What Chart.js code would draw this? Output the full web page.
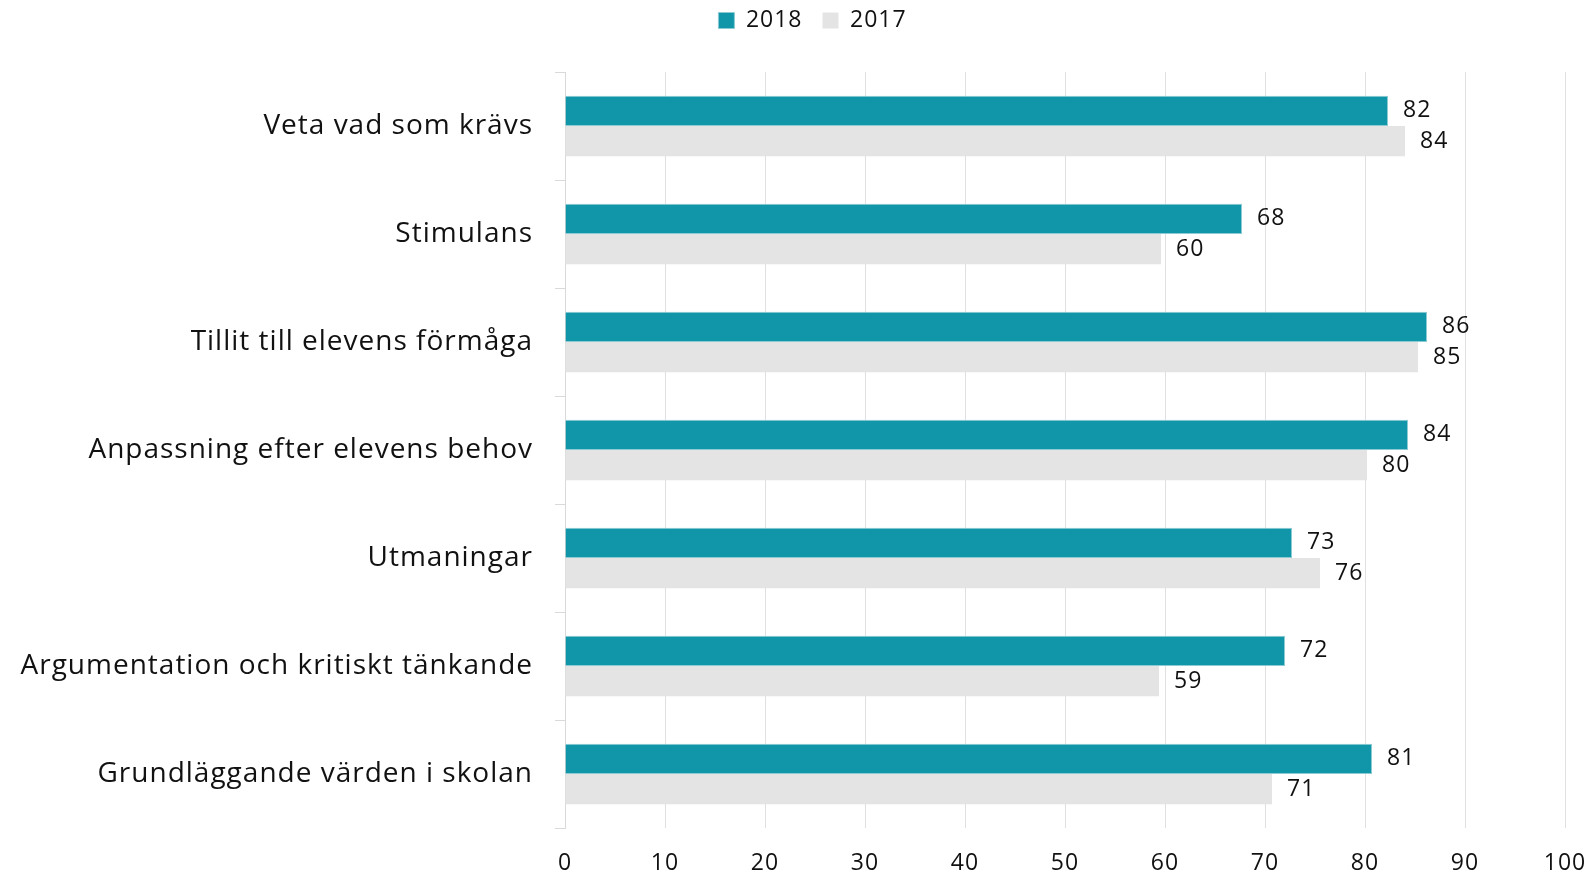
<!DOCTYPE html>
<html lang="sv">
<head>
<meta charset="utf-8">
<script src="https://cdn.jsdelivr.net/npm/chart.js@4.4.1/dist/chart.umd.min.js"></script>
<style>
  html, body { margin: 0; padding: 0; background: #fff; }
  #wrap { width: 1596px; height: 874px; }
</style>
</head>
<body>
<div id="wrap"><canvas id="c" width="1596" height="874"></canvas></div>
<script>
// kategorier och värden
const categories = [
  'Veta vad som krävs',
  'Stimulans',
  'Tillit till elevens förmåga',
  'Anpassning efter elevens behov',
  'Utmaningar',
  'Argumentation och kritiskt tänkande',
  'Grundläggande värden i skolan'
];
const values2018 = [82.3, 67.7, 86.2, 84.3, 72.7, 72.0, 80.7];
const values2017 = [84.0, 59.6, 85.3, 80.2, 75.5, 59.4, 70.7];
const xTicks = [0, 10, 20, 30, 40, 50, 60, 70, 80, 90, 100];

const FONT = '"Open Sans", sans-serif';

// etiketter vid staplarnas ände
const barLabels = {
  id: 'barLabels',
  afterDatasetsDraw(chart) {
    const ctx = chart.ctx;
    ctx.save();
    ctx.font = '23px ' + FONT;
    ctx.fillStyle = '#111';
    ctx.textBaseline = 'middle';
    ctx.textAlign = 'left';
    chart.data.datasets.forEach((ds, i) => {
      chart.getDatasetMeta(i).data.forEach((bar, j) => {
        ctx.fillText(Math.round(ds.data[j]), bar.x + 15, bar.y);
      });
    });
    ctx.restore();
  }
};

// förklaringens placering och lite bredare teckenavstånd
const legendGap = {
  id: 'legendGap',
  beforeInit(chart) {
    const fit = chart.legend.fit;
    chart.legend.fit = function () {
      fit.call(this);
      this.height += 19;
    };
  },
  afterLayout(chart) {
    const lg = chart.legend;
    lg.top -= 11;
    lg.left += 26;
    lg.right += 26;
  },
  beforeDraw(chart) {
    chart.ctx.letterSpacing = '1px';
  }
};

new Chart(document.getElementById('c'), {
  type: 'bar',
  data: {
    labels: categories,
    datasets: [
      {
        label: '2018',
        data: values2018,
        backgroundColor: '#1096a8',
        borderColor: '#8ccbd4',
        borderWidth: 1,
        barPercentage: 1,
        categoryPercentage: 0.56
      },
      {
        label: '2017',
        data: values2017,
        backgroundColor: '#e4e4e4',
        borderWidth: 0,
        barPercentage: 1,
        categoryPercentage: 0.56
      }
    ]
  },
  options: {
    indexAxis: 'y',
    responsive: false,
    animation: false,
    layout: { padding: { top: 0, right: 31, bottom: 0, left: 0 } },
    plugins: {
      legend: {
        position: 'top',
        labels: {
          boxWidth: 16,
          boxHeight: 16,
          padding: 20,
          color: '#111',
          font: { family: FONT, size: 23 }
        }
      },
      tooltip: { enabled: false }
    },
    scales: {
      x: {
        min: 0,
        max: 100,
        afterBuildTicks(axis) { axis.ticks = xTicks.map(v => ({ value: v })); },
        afterFit(axis) {
          axis.height = 46;
          axis.paddingLeft = 0;
          axis.paddingRight = 0;
        },
        grid: { color: '#e0e0e0', lineWidth: 1, drawTicks: false },
        border: { display: false },
        ticks: { color: '#111', padding: 22, maxRotation: 0, font: { family: FONT, size: 23 } }
      },
      y: {
        offset: true,
        afterFit(axis) { axis.width = 565; },
        grid: {
          offset: true,
          drawOnChartArea: false,
          tickLength: 10,
          color: '#d9d9d9'
        },
        border: { display: true, color: '#d9d9d9' },
        ticks: { color: '#111', padding: 22, font: { family: FONT, size: 28 } }
      }
    }
  },
  plugins: [barLabels, legendGap]
});
</script>
</body>
</html>
